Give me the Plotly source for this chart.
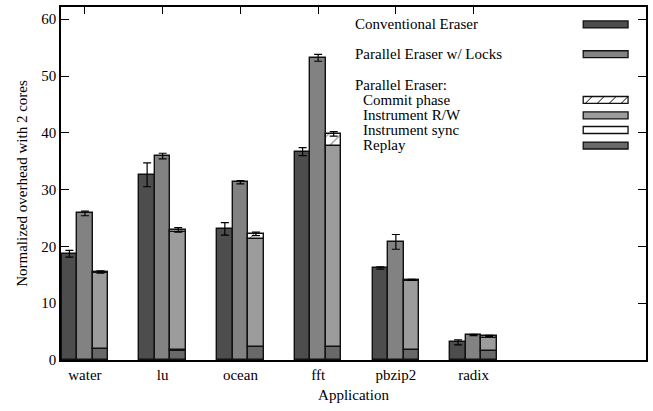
import numpy as np
import plotly.graph_objects as go

# Benchmarks
apps = ["water", "lu", "ocean", "fft", "pbzip2", "radix"]

# Conventional Eraser (mean, error)
conventional = [18.7, 32.6, 23.1, 36.7, 16.2, 3.1]
conventional_err = [0.6, 2.1, 1.1, 0.7, 0.2, 0.45]

# Parallel Eraser with locks (mean, error)
locks = [25.8, 35.9, 31.3, 53.2, 20.8, 4.4]
locks_err = [0.4, 0.5, 0.3, 0.6, 1.3, 0.1]

# Parallel Eraser breakdown (stacked, bottom to top)
replay = [1.9, 1.5, 2.3, 2.3, 1.7, 1.5]
instr_sync = [0.0, 0.2, 0.0, 0.0, 0.0, 0.0]
instr_rw = [13.5, 20.8, 19.0, 35.4, 12.2, 2.35]
commit = [0.1, 0.4, 0.9, 2.1, 0.2, 0.4]
parallel_err = [0.2, 0.4, 0.3, 0.4, 0.1, 0.1]

C_CONV = "#4d4d4d"
C_LOCKS = "#828282"
C_RW = "#9c9c9c"
C_REPLAY = "#696969"
OUTLINE = dict(color="#111111", width=1.4)
FONT = "Liberation Serif"

idx = np.arange(len(apps))
W = 0.2
x_conv = idx - W
x_locks = idx
x_par = idx + W

fig = go.Figure()

err_style = dict(type="data", color="black", thickness=1.2, width=4)

fig.add_trace(go.Bar(x=x_conv, y=conventional, width=W, marker=dict(color=C_CONV, line=OUTLINE),
                     error_y=dict(array=conventional_err, **err_style), name="Conventional Eraser"))
fig.add_trace(go.Bar(x=x_locks, y=locks, width=W, marker=dict(color=C_LOCKS, line=OUTLINE),
                     error_y=dict(array=locks_err, **err_style), name="Parallel Eraser w/ Locks"))

base = np.zeros(len(apps))
segments = [
    ("Replay", replay, dict(color=C_REPLAY, line=OUTLINE)),
    ("Instrument sync", instr_sync, dict(color="white", line=OUTLINE)),
    ("Instrument R/W", instr_rw, dict(color=C_RW, line=OUTLINE)),
    ("Commit phase", commit, dict(color="white", line=OUTLINE,
                                   pattern=dict(shape="/", fgcolor="black", bgcolor="white",
                                                size=9, solidity=0.12))),
]
for name, vals, marker in segments:
    vals = np.array(vals, dtype=float)
    fig.add_trace(go.Bar(x=x_par, y=vals, base=base.copy(), width=W, marker=marker, name=name))
    base = base + vals

# error bars on the stacked total
fig.add_trace(go.Scatter(x=x_par, y=base, mode="markers",
                         marker=dict(size=1, color="rgba(0,0,0,0)"),
                         error_y=dict(array=parallel_err, **err_style),
                         showlegend=False, hoverinfo="skip"))

# ---- hand-laid key (paper coordinates from pixel positions) ----
L, R_, T, B = 61, 648, 5, 360
def px(xp):
    return (xp - L) / (R_ - L)
def py(yp):
    return (B - yp) / (B - T)

shapes = []
annotations = []
key_x0, key_x1, key_h = 585, 630, 7

def key_rect(yc, fill):
    shapes.append(dict(type="rect", xref="paper", yref="paper",
                       x0=px(key_x0), x1=px(key_x1), y0=py(yc + key_h / 2), y1=py(yc - key_h / 2),
                       fillcolor=fill, line=dict(color="#111111", width=1.3), layer="above"))

def label(text, xp, yc):
    annotations.append(dict(text=text, xref="paper", yref="paper", x=px(xp), y=py(yc),
                            xanchor="left", yanchor="middle", showarrow=False,
                            font=dict(family=FONT, size=15, color="black")))

label("Conventional Eraser", 354, 22.5)
key_rect(22.5, C_CONV)
label("Parallel Eraser w/ Locks", 354, 52.5)
key_rect(52.5, C_LOCKS)
label("Parallel Eraser:", 354, 83)
label("Commit phase", 362, 98.5)
key_rect(98.5, "white")
# hatch strokes inside the commit key
for k in range(4):
    xa = key_x0 + 2 + k * 12
    xb = xa + 7
    if xb > key_x1:
        break
    shapes.append(dict(type="line", xref="paper", yref="paper",
                       x0=px(xa), y0=py(98.5 + key_h / 2), x1=px(xb), y1=py(98.5 - key_h / 2),
                       line=dict(color="black", width=1), layer="above"))
label("Instrument R/W", 362, 113.5)
key_rect(114, C_RW)
label("Instrument sync", 362, 128.5)
key_rect(128.7, "white")
label("Replay", 362, 143.5)
key_rect(144.3, C_REPLAY)

fig.update_layout(
    width=653, height=411,
    margin=dict(l=L, r=653 - R_, t=T, b=411 - B),
    paper_bgcolor="white", plot_bgcolor="white",
    barmode="overlay", bargap=0,
    showlegend=False,
    font=dict(family=FONT, size=15, color="black"),
    shapes=shapes, annotations=annotations,
    xaxis=dict(range=[-0.308, 7.218], tickmode="array", tickvals=idx, ticktext=apps,
               showline=True, linecolor="black", linewidth=1.5, mirror="ticks",
               ticks="inside", ticklen=7, tickcolor="black", tickwidth=1.2,
               showgrid=False, zeroline=False, layer="below traces",
               title=dict(text="Application", font=dict(family=FONT, size=15), standoff=8),
               tickfont=dict(family=FONT, size=15)),
    yaxis=dict(range=[0, 62.15], tickvals=[0, 10, 20, 30, 40, 50, 60],
               showline=True, linecolor="black", linewidth=1.5, mirror="ticks",
               ticks="inside", ticklen=8, tickcolor="black", tickwidth=1.2,
               showgrid=False, zeroline=False, layer="below traces",
               title=dict(text="Normalized overhead with 2 cores", font=dict(family=FONT, size=15), standoff=10),
               tickfont=dict(family=FONT, size=15)),
)

fig.write_html("out.html")
